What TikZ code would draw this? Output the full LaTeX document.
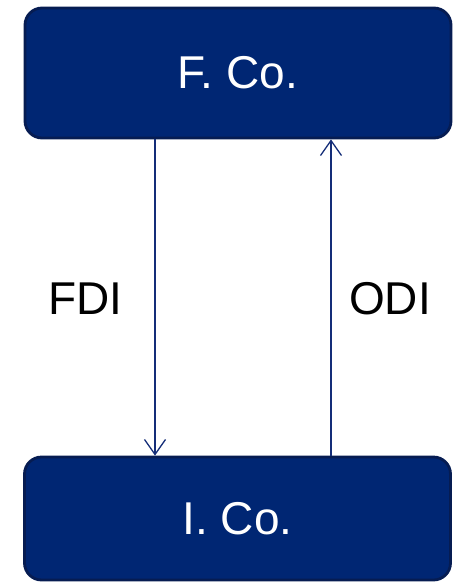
\documentclass[tikz,border=0pt]{standalone}
\usepackage{fontspec}
\setmainfont{Liberation Sans}
\usetikzlibrary{arrows.meta}
\definecolor{boxfill}{RGB}{0,38,115}
\definecolor{boxedge}{RGB}{6,28,82}
\definecolor{flow}{RGB}{20,45,120}
\begin{document}
\begin{tikzpicture}[x=1pt,y=-1pt,
  company/.style={draw=boxedge, fill=boxfill, line width=2.8pt, rounded corners=17pt,
    text=white, font=\fontsize{46}{50}\selectfont, inner sep=0pt,
    minimum width=426pt},
  flowlabel/.style={font=\fontsize{46}{50}\selectfont, text=black, inner sep=0pt},
  flowline/.style={draw=flow, line width=1.3pt, -{Straight Barb[length=15pt,width=21pt,line width=1.3pt]}}]
  \useasboundingbox (0,0) rectangle (454,584);
  % the two companies
  \node[company, minimum height=130pt] (fco) at (238,73) {F. Co.};
  \node[company, minimum height=123pt] (ico) at (237.5,518.5) {I. Co.};
  % investment flows between them
  \draw[flowline] (fco.south -| 155,0) -- (ico.north -| 155,0);
  \draw[flowline] (ico.north -| 331,0) -- (fco.south -| 331,0);
  \node[flowlabel] (fdi) at (85.5,298.5) {FDI};
  \node[flowlabel] (odi) at (390,298.5) {ODI};
\end{tikzpicture}
\end{document}
